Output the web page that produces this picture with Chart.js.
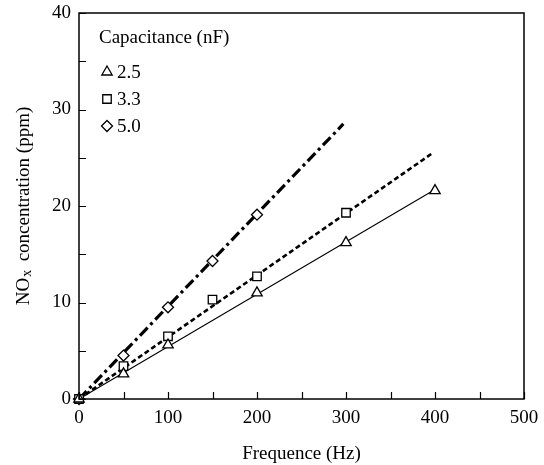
<!DOCTYPE html>
<html>
<head>
<meta charset="utf-8">
<script src="https://cdn.jsdelivr.net/npm/chart.js@4.4.1/dist/chart.umd.min.js"></script>
<style>
  html, body { margin: 0; padding: 0; background: #fff; }
  #wrap { width: 544px; height: 465px; position: relative; }
</style>
</head>
<body>
<div id="wrap"><canvas id="c" width="544" height="465"></canvas></div>
<script>
/* NOx 농도 vs 주파수 — 커패시턴스별 측정점 + 직선 피팅 */

var freq25 = [0, 50, 100, 200, 300, 400];
var nox25 = [0, 2.6, 5.6, 11.0, 16.2, 21.6];
var freq33 = [0, 50, 100, 150, 200, 300];
var nox33 = [0, 3.4, 6.5, 10.3, 12.7, 19.3];
var freq50 = [0, 50, 100, 150, 200];
var nox50 = [0, 4.5, 9.5, 14.3, 19.1];

// 피팅 직선 양 끝점
var fitFreq25 = [0, 400];
var fitNox25 = [0, 21.7];
var fitFreq33 = [0, 396];
var fitNox33 = [0, 25.4];
var fitFreq50 = [0, 297];
var fitNox50 = [0, 28.5];

var capLabels = ['2.5', '3.3', '5.0'];
var markerStyles = ['triangle', 'rect', 'rectRot'];

var xTicksMajor = [0, 100, 200, 300, 400, 500];
var yTicksMajor = [0, 10, 20, 30, 40];

function toPoints(xs, ys) {
  var out = [];
  for (var i = 0; i < xs.length; i++) out.push({ x: xs[i], y: ys[i] });
  return out;
}

var FONT = "'Liberation Serif', 'Times New Roman', serif";
Chart.defaults.font.family = FONT;
Chart.defaults.font.size = 19;
Chart.defaults.color = '#000';

var markerRadius = [6, 6, 5.5];

function markerSet(label, xs, ys, style, radius) {
  return {
    type: 'scatter',
    label: label,
    data: toPoints(xs, ys),
    showLine: false,
    pointStyle: style,
    pointRadius: radius,
    pointBackgroundColor: '#fff',
    pointBorderColor: '#000',
    pointBorderWidth: 1.3,
    clip: false,
    order: 0
  };
}

function fitSet(xs, ys, width, dash) {
  return {
    type: 'line',
    label: '',
    data: toPoints(xs, ys),
    borderColor: '#000',
    borderWidth: width,
    borderDash: dash,
    pointRadius: 0,
    fill: false,
    tension: 0,
    clip: false,
    order: 1
  };
}

// 안쪽 눈금 + 테두리 + 축 제목 + 범례
var framePlugin = {
  id: 'frame',
  afterDraw: function (chart) {
    var ctx = chart.ctx;
    var a = chart.chartArea;
    var xs = chart.scales.x, ys = chart.scales.y;
    ctx.save();
    ctx.strokeStyle = '#000';
    ctx.lineWidth = 1.5;
    ctx.strokeRect(a.left, a.top, a.right - a.left, a.bottom - a.top);
    ctx.lineWidth = 1.2;
    ctx.beginPath();
    xs.ticks.forEach(function (t) {
      var px = Math.round(xs.getPixelForValue(t.value)) + 0.5;
      ctx.moveTo(px, a.bottom);
      ctx.lineTo(px, a.bottom - 7);
    });
    ys.ticks.forEach(function (t) {
      var py = Math.round(ys.getPixelForValue(t.value)) + 0.5;
      ctx.moveTo(a.left, py);
      ctx.lineTo(a.left + 7, py);
    });
    ctx.stroke();

    // y축 제목 (NO 아래첨자 x)
    ctx.fillStyle = '#000';
    ctx.translate(24, (a.top + a.bottom) / 2);
    ctx.rotate(-Math.PI / 2);
    var big = '19px ' + FONT, small = '14px ' + FONT;
    ctx.font = big;
    var w1 = ctx.measureText('NO').width;
    var w3 = ctx.measureText('  concentration (ppm)').width;
    ctx.font = small;
    var w2 = ctx.measureText('x').width;
    var x0 = -(w1 + w2 + w3) / 2;
    ctx.textBaseline = 'middle';
    ctx.font = big;
    ctx.fillText('NO', x0, 0);
    ctx.font = small;
    ctx.fillText('x', x0 + w1 + 1, 3);
    ctx.font = big;
    ctx.fillText('  concentration (ppm)', x0 + w1 + w2, 0);
    ctx.restore();

    // 범례
    ctx.save();
    ctx.fillStyle = '#000';
    ctx.font = '19px ' + FONT;
    ctx.textBaseline = 'middle';
    ctx.fillText('Capacitance (nF)', a.left + 20, a.top + 25);
    for (var i = 0; i < capLabels.length; i++) {
      var cy = a.top + 59 + i * 27;
      ctx.strokeStyle = '#000';
      ctx.fillStyle = '#fff';
      ctx.lineWidth = 1.3;
      Chart.helpers.drawPoint(ctx, {
        pointStyle: markerStyles[i],
        radius: markerRadius[i],
        rotation: 0,
        borderWidth: 1.3
      }, a.left + 28, cy);
      ctx.fillStyle = '#000';
      ctx.fillText(capLabels[i], a.left + 38, cy + 1);
    }
    ctx.restore();
  }
};

new Chart(document.getElementById('c'), {
  data: {
    datasets: [
      markerSet(capLabels[0], freq25, nox25, markerStyles[0], markerRadius[0]),
      markerSet(capLabels[1], freq33, nox33, markerStyles[1], markerRadius[1]),
      markerSet(capLabels[2], freq50, nox50, markerStyles[2], markerRadius[2]),
      fitSet(fitFreq25, fitNox25, 1.1, []),
      fitSet(fitFreq33, fitNox33, 2.6, [5, 3]),
      fitSet(fitFreq50, fitNox50, 3.2, [11, 4, 3, 4])
    ]
  },
  options: {
    responsive: false,
    animation: false,
    layout: { padding: { left: 0, top: 13, right: 20, bottom: 0 } },
    plugins: {
      legend: { display: false },
      tooltip: { enabled: false }
    },
    scales: {
      x: {
        type: 'linear',
        min: 0,
        max: 500,
        afterFit: function (s) {
          s.height = 66;
          s.paddingLeft = 0;
          s.paddingRight = 0;
        },
        border: { display: false },
        grid: { display: false, drawTicks: false },
        ticks: {
          stepSize: 50,
          padding: 8,
          maxRotation: 0,
          autoSkip: false,
          callback: function (v) { return xTicksMajor.indexOf(v) >= 0 ? String(v) : ''; }
        },
        title: {
          display: true,
          text: 'Frequence (Hz)',
          padding: { top: 9, bottom: 0 }
        }
      },
      y: {
        type: 'linear',
        min: 0,
        max: 40,
        afterFit: function (s) {
          s.width = 79;
          s.paddingTop = 0;
          s.paddingBottom = 0;
        },
        border: { display: false },
        grid: { display: false, drawTicks: false },
        ticks: {
          stepSize: 5,
          padding: 8,
          autoSkip: false,
          callback: function (v) { return yTicksMajor.indexOf(v) >= 0 ? String(v) : ''; }
        }
      }
    }
  },
  plugins: [framePlugin]
});
</script>
</body>
</html>
